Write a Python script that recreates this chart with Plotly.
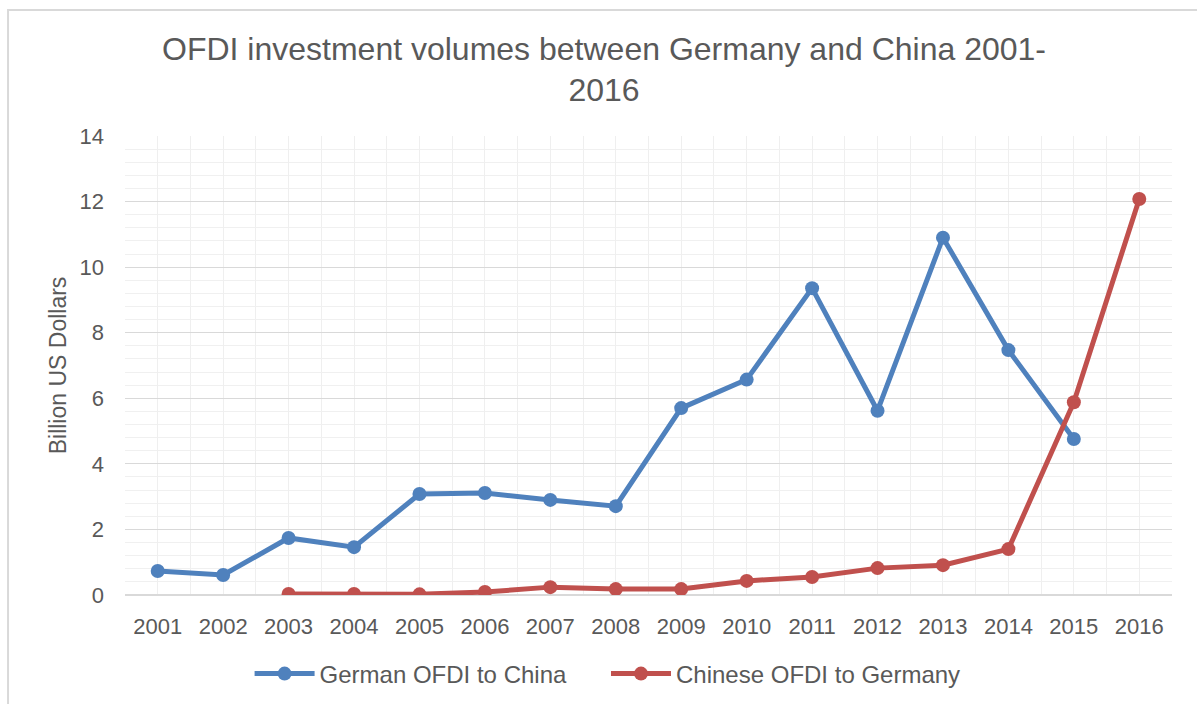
import plotly.graph_objects as go

years = list(range(2001, 2017))
year_labels = [str(y) for y in years]

german_years = list(range(2001, 2016))
german_ofdi = [0.73, 0.61, 1.74, 1.46, 3.08, 3.11, 2.90, 2.71, 5.70, 6.57, 9.36, 5.62, 10.90, 7.47, 4.76]

chinese_years = list(range(2003, 2017))
chinese_ofdi = [0.03, 0.03, 0.02, 0.09, 0.24, 0.18, 0.18, 0.43, 0.55, 0.82, 0.91, 1.40, 5.88, 12.08]

text_color = "#595959"
font_family = "Arial, Liberation Sans, sans-serif"

fig = go.Figure()
fig.add_trace(go.Scatter(
    x=german_years, y=german_ofdi, name="German OFDI to China",
    mode="lines+markers",
    line=dict(color="#4f81bd", width=5),
    marker=dict(color="#4f81bd", size=14),
    legend="legend",
))
fig.add_trace(go.Scatter(
    x=chinese_years, y=chinese_ofdi, name="Chinese OFDI to Germany",
    mode="lines+markers",
    line=dict(color="#c0504d", width=5),
    marker=dict(color="#c0504d", size=14),
    legend="legend2",
))

legend_style = dict(
    orientation="h", xanchor="left", xref="paper",
    y=0.0426, yanchor="middle", yref="container",
    font=dict(size=24, color=text_color),
    itemwidth=60, bgcolor="rgba(0,0,0,0)",
)

fig.update_layout(
    width=1197, height=704,
    margin=dict(l=125, r=25, t=136, b=109, autoexpand=False),
    paper_bgcolor="white", plot_bgcolor="white",
    font=dict(family=font_family, color=text_color, size=22),
    title=dict(
        text="OFDI investment volumes between Germany and China 2001-<br>2016",
        x=0.4575, xref="paper", xanchor="center",
        y=0.915, yanchor="top",
        font=dict(size=32, color=text_color),
    ),
    showlegend=True,
    legend=dict(x=0.119, **legend_style),
    legend2=dict(x=0.4594, **legend_style),
    xaxis=dict(
        range=[2000.5, 2016.5],
        tickmode="array", tickvals=years, ticktext=year_labels,
        showgrid=True, gridcolor="#efefef", gridwidth=1,
        minor=dict(tick0=2000.5, dtick=1, showgrid=True, gridcolor="#efefef", gridwidth=1),
        showline=False, zeroline=False, ticks="", ticklabelstandoff=16,
        tickfont=dict(size=22, color=text_color),
    ),
    yaxis=dict(
        range=[0, 14], dtick=2, tick0=0,
        showgrid=True, gridcolor="#d9d9d9", gridwidth=1,
        minor=dict(dtick=0.4, tick0=0, showgrid=True, gridcolor="#f0f0f0", gridwidth=1),
        zeroline=True, zerolinecolor="#d9d9d9", zerolinewidth=1.5,
        showline=False, ticks="", ticklabelstandoff=20,
        tickfont=dict(size=22, color=text_color),
        title=dict(text="Billion US Dollars", font=dict(size=23, color=text_color), standoff=6),
    ),
)

# outer chart frame
fig.add_shape(
    type="rect", xref="paper", yref="paper",
    x0=-0.1117, x1=1.2, y0=-0.5, y1=1.2745,
    line=dict(color="#d9d9d9", width=2), fillcolor="rgba(0,0,0,0)",
    layer="below",
)

fig.write_html("out.html")
